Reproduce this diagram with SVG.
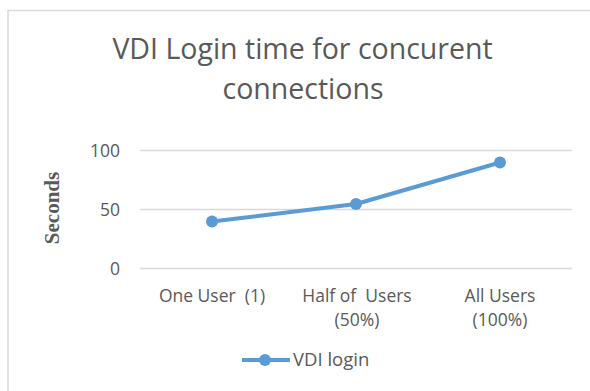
<svg xmlns="http://www.w3.org/2000/svg" width="590" height="391" viewBox="0 0 590 391">
<style>
.t{font-family:"Open Sans","Liberation Sans",sans-serif;fill:#595959}
.tick{font-size:17.5px}
.grid{stroke:#d9d9d9;stroke-width:1.5}
.series{stroke:#5b9bd5;stroke-width:4;fill:none;stroke-linejoin:round}
.pt{fill:#5b9bd5}
</style>
<rect x="0" y="0" width="590" height="391" fill="#fff"/>
<g id="frame">
<path d="M8 391 V10.5 H590" fill="none" stroke="#d9d9d9" stroke-width="1.5"/>
</g>
<g id="title">
<text class="t" x="302.5" y="59" font-size="28.5" text-anchor="middle">VDI Login time for concurent</text>
<text class="t" x="303" y="99" font-size="28.5" text-anchor="middle">connections</text>
</g>
<g id="grid">
<line class="grid" x1="140" y1="150.5" x2="572" y2="150.5"/>
<line class="grid" x1="140" y1="209.5" x2="572" y2="209.5"/>
<line class="grid" x1="140" y1="268.5" x2="572" y2="268.5"/>
</g>
<g id="yaxis">
<text class="t tick" x="120" y="157" text-anchor="end">100</text>
<text class="t tick" x="120" y="216" text-anchor="end">50</text>
<text class="t tick" x="120" y="275" text-anchor="end">0</text>
<text x="59" y="208" transform="rotate(-90 59 208)" text-anchor="middle" font-family="Liberation Serif,serif" font-weight="bold" font-size="21" fill="#595959">Seconds</text>
</g>
<g id="xaxis">
<text class="t tick" x="212" y="302" text-anchor="middle" xml:space="preserve">One User  (1)</text>
<text class="t tick" x="357" y="302" text-anchor="middle" xml:space="preserve">Half of  Users</text>
<text class="t tick" x="357" y="326" text-anchor="middle">(50%)</text>
<text class="t tick" x="500" y="302" text-anchor="middle">All Users</text>
<text class="t tick" x="500" y="326" text-anchor="middle">(100%)</text>
</g>
<g id="connectors">
<polyline class="series" points="212,221.5 356,204 500,162.5"/>
</g>
<g id="point-1"><circle class="pt" cx="212" cy="221.5" r="6"/></g>
<g id="point-2"><circle class="pt" cx="356" cy="204" r="6"/></g>
<g id="point-3"><circle class="pt" cx="500" cy="162.5" r="6"/></g>
<g id="legend">
<line x1="242" y1="360" x2="290" y2="360" stroke="#5b9bd5" stroke-width="4"/>
<circle class="pt" cx="265" cy="360" r="6"/>
<text class="t" x="293" y="366" font-size="18.5">VDI login</text>
</g>
</svg>
